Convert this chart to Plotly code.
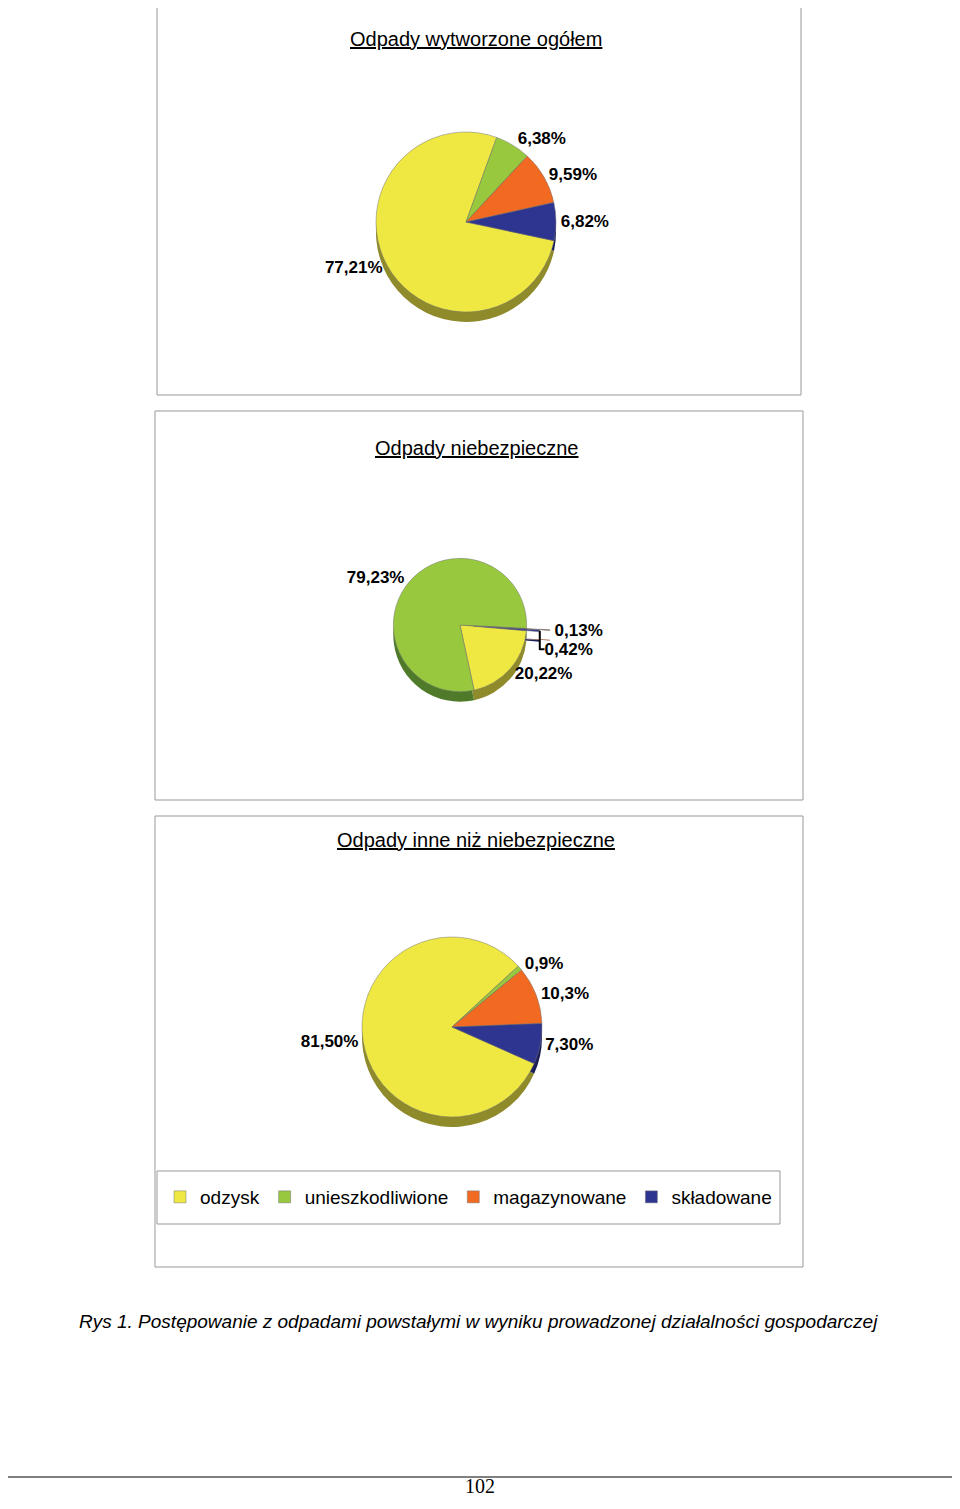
import plotly.graph_objects as go

W, H = 960, 1509
OX, OY = 8, 8  # page body margin offset

categories = ['odzysk', 'unieszkodliwione', 'magazynowane', 'składowane']
colors = ['#f0e842', '#98c83e', '#f26a22', '#2e3591']
dark = ['#8f8a2a', '#4f7a2a', '#8a3c14', '#1a1f55']

total_vals = [77.21, 6.38, 9.59, 6.82]
total_txt = ['77,21%', '6,38%', '9,59%', '6,82%']

haz_vals = [20.22, 79.23, 0.13, 0.42]
haz_txt = ['20,22%', '79,23%', '0,13%', '0,42%']
haz_colors = ['#f0e842', '#98c83e', '#8b3a1a', '#2e3591']

other_vals = [81.50, 0.9, 10.3, 7.30]
other_txt = ['81,50%', '0,9%', '10,3%', '7,30%']

titles = ['Odpady wytworzone ogółem', 'Odpady niebezpieczne', 'Odpady inne niż niebezpieczne']

fig = go.Figure()


def px_dom(cx, cy, r, dy=0):
    cx, cy = cx - OX, cy - OY
    return dict(x=[(cx - r) / W, (cx + r) / W],
                y=[1 - (cy + dy + r) / H, 1 - (cy + dy - r) / H])


def px(x, y):
    return (x - OX) / W, 1 - (y - OY) / H


pies = [
    (total_vals, total_txt, colors, 102, (466, 222, 90), [0, 0, 0, 0]),
    (haz_vals, haz_txt, haz_colors, 95, (460, 625, 90), [0, 0, 0.35, 0.2]),
    (other_vals, other_txt, colors, 114, (452, 1027, 90), [0, 0, 0, 0]),
]

for vals, txt, cols, rot, (cx, cy, r), pull in pies:
    # shadow for the 3D look
    fig.add_trace(go.Pie(values=vals, labels=categories, sort=False, direction='clockwise',
                         rotation=rot, pull=pull, domain=px_dom(cx, cy, r, 10),
                         marker=dict(colors=dark, line=dict(width=0)),
                         textinfo='none', showlegend=False, hoverinfo='skip'))
    fig.add_trace(go.Pie(values=vals, labels=categories, sort=False, direction='clockwise',
                         rotation=rot, pull=pull, domain=px_dom(cx, cy, r),
                         marker=dict(colors=cols, line=dict(width=0.5, color='#777')),
                         text=txt, texttemplate='<b>%{text}</b>', textposition='outside',
                         textfont=dict(family='Liberation Sans', size=17, color='black'),
                         showlegend=(cy == 222), automargin=False))

shapes = []
boxes = [(157, 2, 801, 395), (155, 411, 803, 800), (155, 816, 803, 1267)]
for x0, y0, x1, y1 in boxes + [(157, 1171, 780, 1224)]:
    a, b = px(x0, y1)
    c, d = px(x1, y0)
    shapes.append(dict(type='rect', xref='paper', yref='paper', x0=a, x1=c, y0=b, y1=d,
                       line=dict(color='#999', width=1)))
shapes.append(dict(type='line', xref='paper', yref='paper', x0=0, x1=1,
                   y0=px(0, 1477)[1], y1=px(0, 1477)[1], line=dict(color='black', width=1)))

annotations = []
for t, (x0, y0, x1, y1) in zip(titles, boxes):
    ax, ay = px((x0 + x1) / 2 - 3, y0 + 24)
    annotations.append(dict(text='<u>' + t + '</u>', x=ax, y=ay,
                            xref='paper', yref='paper', showarrow=False,
                            font=dict(family='Liberation Sans', size=20, color='black')))
cx_, cy_ = px(478, 1334)
annotations.append(dict(text='<i>Rys 1. Postępowanie z odpadami powstałymi w wyniku prowadzonej działalności gospodarczej</i>',
                        x=cx_, y=cy_, xref='paper', yref='paper', showarrow=False,
                        font=dict(family='Liberation Sans', size=19, color='black')))
cx_, cy_ = px(480, 1499)
annotations.append(dict(text='102', x=cx_, y=cy_, xref='paper', yref='paper',
                        showarrow=False, font=dict(family='Liberation Serif', size=20, color='black')))

lx, ly = px(160, 1197)
fig.update_layout(
    width=W, height=H, margin=dict(l=0, r=0, t=0, b=0),
    paper_bgcolor='white', plot_bgcolor='white',
    shapes=shapes, annotations=annotations,
    legend=dict(orientation='h', x=lx, y=ly, yanchor='middle', xanchor='left',
                font=dict(family='Liberation Sans', size=19, color='black'),
                traceorder='normal', itemwidth=30, tracegroupgap=0,
                bgcolor='rgba(0,0,0,0)'),
)

fig.write_html("out.html")
